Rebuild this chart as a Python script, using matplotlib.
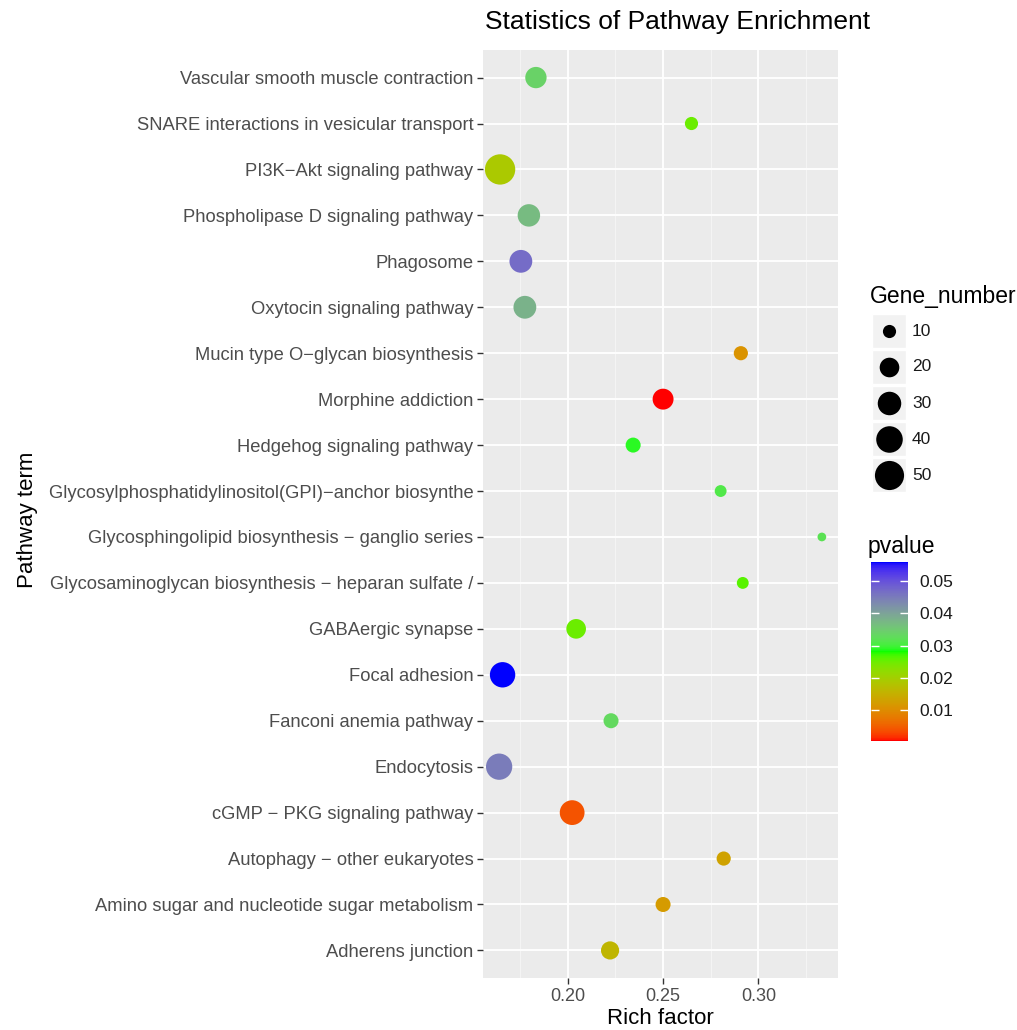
import matplotlib
matplotlib.use("Agg")
import matplotlib.pyplot as plt
import numpy as np
from matplotlib.colors import ListedColormap, Normalize

plt.rcParams['font.family'] = ['Liberation Sans', 'DejaVu Sans']

# pathway terms, top to bottom as shown
terms = [
    "Vascular smooth muscle contraction",
    "SNARE interactions in vesicular transport",
    "PI3K\u2212Akt signaling pathway",
    "Phospholipase D signaling pathway",
    "Phagosome",
    "Oxytocin signaling pathway",
    "Mucin type O\u2212glycan biosynthesis",
    "Morphine addiction",
    "Hedgehog signaling pathway",
    "Glycosylphosphatidylinositol(GPI)\u2212anchor biosynthe",
    "Glycosphingolipid biosynthesis \u2212 ganglio series",
    "Glycosaminoglycan biosynthesis \u2212 heparan sulfate /",
    "GABAergic synapse",
    "Focal adhesion",
    "Fanconi anemia pathway",
    "Endocytosis",
    "cGMP \u2212 PKG signaling pathway",
    "Autophagy \u2212 other eukaryotes",
    "Amino sugar and nucleotide sugar metabolism",
    "Adherens junction",
]
rich_factor = [0.1833, 0.2649, 0.1645, 0.1796, 0.1754, 0.1775, 0.2908, 0.2500,
               0.2343, 0.2802, 0.3333, 0.2918, 0.2044, 0.1658, 0.2227, 0.1640,
               0.2023, 0.2818, 0.2500, 0.2222]
gene_number = [24, 10, 55, 27, 28, 28, 11, 23, 12, 9, 8, 9, 20, 36, 12, 39,
               34, 11, 12, 17]
pvalue = [0.034, 0.025, 0.019, 0.037, 0.047, 0.038, 0.011, 0.0004, 0.029, 0.031,
          0.032, 0.026, 0.025, 0.0559, 0.033, 0.045, 0.004, 0.013, 0.012, 0.016]
size_breaks = [10, 20, 30, 40, 50]
p_ticks = [0.01, 0.02, 0.03, 0.04, 0.05]


# colour gradient red -> green -> blue interpolated in Lab, like ggplot
def srgb_to_lab(rgb):
    c = np.asarray(rgb, float)
    lin = np.where(c <= 0.04045, c / 12.92, ((c + 0.055) / 1.055) ** 2.4)
    m = np.array([[0.4124, 0.3576, 0.1805],
                  [0.2126, 0.7152, 0.0722],
                  [0.0193, 0.1192, 0.9505]])
    xyz = m @ lin / np.array([0.95047, 1.0, 1.08883])
    f = np.where(xyz > 0.008856, np.cbrt(xyz), 7.787 * xyz + 16 / 116)
    return np.array([116 * f[1] - 16, 500 * (f[0] - f[1]), 200 * (f[1] - f[2])])


def lab_to_srgb(lab):
    L, a, b = lab
    fy = (L + 16) / 116
    fx = fy + a / 500
    fz = fy - b / 200
    f = np.array([fx, fy, fz])
    xyz = np.where(f ** 3 > 0.008856, f ** 3, (f - 16 / 116) / 7.787)
    xyz = xyz * np.array([0.95047, 1.0, 1.08883])
    mi = np.array([[3.2406, -1.5372, -0.4986],
                   [-0.9689, 1.8758, 0.0415],
                   [0.0557, -0.2040, 1.0570]])
    lin = np.clip(mi @ xyz, 0, 1)
    c = np.where(lin <= 0.0031308, 12.92 * lin, 1.055 * lin ** (1 / 2.4) - 0.055)
    return np.clip(c, 0, 1)


anchors = [srgb_to_lab(c) for c in ([1, 0, 0], [0, 1, 0], [0, 0, 1])]
cols = []
for t in np.linspace(0, 1, 256):
    if t <= 0.5:
        lab = anchors[0] + (anchors[1] - anchors[0]) * (t / 0.5)
    else:
        lab = anchors[1] + (anchors[2] - anchors[1]) * ((t - 0.5) / 0.5)
    cols.append(lab_to_srgb(lab))
cmap = ListedColormap(cols)

gmin, gmax = min(gene_number), max(gene_number)


def point_area(v):
    v = np.asarray(v, float)
    size = 1 + 5 * np.sqrt(np.clip((v - gmin) / (gmax - gmin), 0, 1))
    diam_px = 4.4 + 4.32 * size
    return (diam_px * 0.72) ** 2


fig = plt.figure(figsize=(10.17, 10.30), dpi=100)
W, H = 1017, 1030
ax = fig.add_axes([483 / W, 1 - 978 / H, 355 / W, 928 / H])
ax.set_facecolor('#EBEBEB')

ypos = np.arange(len(terms), 0, -1)
sc = ax.scatter(rich_factor, ypos, s=point_area(gene_number), c=pvalue,
                cmap=cmap, norm=Normalize(min(pvalue), max(pvalue)),
                linewidths=0, zorder=3)

xr = max(rich_factor) - min(rich_factor)
ax.set_xlim(min(rich_factor) - 0.05 * xr, max(rich_factor) + 0.05 * xr)
ax.set_ylim(0.4, len(terms) + 0.6)
ax.set_xticks([0.20, 0.25, 0.30])
ax.set_xticklabels(['0.20', '0.25', '0.30'])
ax.set_xticks([0.175, 0.225, 0.275, 0.325], minor=True)
ax.set_yticks(ypos)
ax.set_yticklabels(terms)
ax.grid(which='major', color='white', linewidth=1.3, zorder=0)
ax.grid(which='minor', axis='x', color='#F5F5F5', linewidth=0.7, zorder=0)
ax.set_axisbelow(True)
for sp in ax.spines.values():
    sp.set_visible(False)
ax.tick_params(axis='both', which='major', length=4, width=1, color='#333333',
               labelcolor='#4D4D4D', pad=3)
ax.tick_params(axis='y', labelsize=13.2)
ax.tick_params(axis='x', labelsize=13)
ax.tick_params(axis='x', which='minor', length=0)

ax.set_xlabel('Rich factor', fontsize=16, labelpad=2)
fig.text(28 / W, 1 - 520 / H, 'Pathway term', rotation=90, fontsize=16,
         ha='center', va='center')
fig.text(678 / W, 1 - 22 / H, 'Statistics of Pathway Enrichment', fontsize=19,
         ha='center', va='center')

# size legend
fig.text(870 / W, 1 - 297 / H, 'Gene_number', fontsize=16.5, ha='left', va='center')
lax = fig.add_axes([872 / W, 1 - 493 / H, 34 / W, 180 / H])
lax.set_xlim(0, 34)
lax.set_ylim(0, 180)
lax.axis('off')
for i, v in enumerate(size_breaks):
    yc = 180 - 18 - 36 * i
    lax.add_patch(plt.Rectangle((0, yc - 17), 34, 34, facecolor='#F2F2F2',
                                edgecolor='white', linewidth=1))
    lax.scatter([17], [yc], s=point_area(v), color='black', linewidths=0,
                zorder=3)
    fig.text(912 / W, 1 - (313 + 18 + 36 * i) / H, str(v), fontsize=12.5,
             ha='left', va='center', color='#1A1A1A')

# colour bar
fig.text(868 / W, 1 - 546 / H, 'pvalue', fontsize=16.5, ha='left', va='center')
cax = fig.add_axes([871 / W, 1 - 741 / H, 37 / W, 179 / H])
cb = fig.colorbar(sc, cax=cax, ticks=p_ticks)
cb.outline.set_visible(False)
cb.ax.set_yticklabels(['%.2f' % t for t in p_ticks])
cb.ax.tick_params(direction='in', color='white', length=6, width=1,
                  left=True, right=True, labelsize=12.5, labelcolor='#1A1A1A',
                  pad=8)

fig.savefig('out.png', dpi=100)
